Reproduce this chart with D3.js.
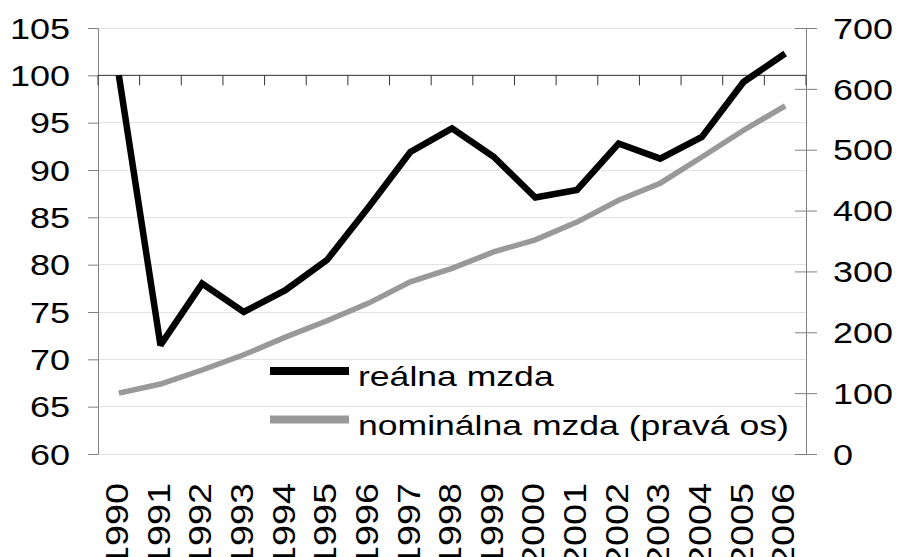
<!DOCTYPE html>
<html>
<head>
<meta charset="utf-8" />
<script src="https://d3js.org/d3.v7.min.js"></script>
<style>
  body { margin: 0; background: #fff; }
  text { font-family: "Liberation Sans", Arial, sans-serif; fill: #000; }
  .axis path, .axis line { stroke: #808080; }
  .grid line { stroke: #e2e2e2; shape-rendering: crispEdges; }
  .line { fill: none; stroke-linecap: butt; stroke-linejoin: miter; stroke-miterlimit: 2; }
</style>
</head>
<body>
<svg width="898" height="557"></svg>
<script>
// data
var years = ["1990","1991","1992","1993","1994","1995","1996","1997","1998",
             "1999","2000","2001","2002","2003","2004","2005","2006"];
var realWage = [100, 71.5, 78.0, 75.0, 77.3, 80.5, 86.1, 91.9, 94.4,
                91.4, 87.1, 87.9, 92.8, 91.2, 93.5, 99.3, 102.3];
var nominalWage = [100, 115, 138, 163, 192, 219, 248, 283, 305,
                   332, 352, 381, 417, 445, 488, 532, 572];
var leftTicks = [60, 65, 70, 75, 80, 85, 90, 95, 100, 105];
var rightTicks = [0, 100, 200, 300, 400, 500, 600, 700];
var seriesNames = ["reálna mzda", "nominálna mzda (pravá os)"];

var svg = d3.select("svg"),
    margin = {top: 28, right: 92, bottom: 103, left: 98},
    width = +svg.attr("width") - margin.left - margin.right,
    height = +svg.attr("height") - margin.top - margin.bottom;

var g = svg.append("g")
  .attr("transform", "translate(" + margin.left + "," + margin.top + ")");

// scales
var x = d3.scaleBand().domain(years).range([0, width]);
var yL = d3.scaleLinear().domain([60, 105]).range([height, 0]);
var yR = d3.scaleLinear().domain([0, 700]).range([height, 0]);
var bw = x.bandwidth();

// gridlines
g.append("g")
  .attr("class", "grid")
  .selectAll("line")
  .data(leftTicks)
  .enter().append("line")
  .attr("x1", 0)
  .attr("x2", width)
  .attr("y1", function(d) { return yL(d); })
  .attr("y2", function(d) { return yL(d); });

// left axis
var left = g.append("g")
  .attr("class", "axis")
  .call(d3.axisLeft(yL).tickValues(leftTicks).tickSize(10).tickSizeOuter(0));
left.selectAll("text")
  .attr("x", 0)
  .attr("dy", "0.34em")
  .attr("transform", "translate(-28,0) scale(1.2,1)")
  .style("font-size", "30px");

// right axis
var right = g.append("g")
  .attr("class", "axis")
  .attr("transform", "translate(" + width + ",0)")
  .call(d3.axisRight(yR).tickValues(rightTicks).tickSizeOuter(0));
right.selectAll(".tick line")
  .attr("x1", -11)
  .attr("x2", 11);
right.selectAll("text")
  .attr("x", 0)
  .attr("dy", "0.34em")
  .attr("transform", "translate(27,0) scale(1.2,1)")
  .style("font-size", "30px");
svg.selectAll(".axis .domain").attr("stroke", "#808080");

// category axis crossing at 100
var xAxis = g.append("g")
  .attr("transform", "translate(0," + yL(100) + ")");
xAxis.append("line")
  .attr("x1", 0)
  .attr("x2", width)
  .attr("stroke", "#333");
xAxis.selectAll(".xt")
  .data(years.concat(["end"]))
  .enter().append("line")
  .attr("class", "xt")
  .attr("x1", function(d) { return d === "end" ? width : x(d); })
  .attr("x2", function(d) { return d === "end" ? width : x(d); })
  .attr("y1", 0)
  .attr("y2", 10)
  .attr("stroke", "#333");

// year labels under the plot
g.selectAll(".ylab")
  .data(years)
  .enter().append("text")
  .attr("class", "ylab")
  .attr("text-anchor", "end")
  .attr("dy", "0.35em")
  .attr("transform", function(d) {
    return "translate(" + (x(d) + bw / 2 - 2) + "," + (height + 29) + ") rotate(-90) scale(1.18,1)";
  })
  .style("font-size", "32px")
  .text(function(d) { return d; });

// lines
var lineL = d3.line()
  .x(function(d, i) { return x(years[i]) + bw / 2; })
  .y(function(d) { return yL(d); });
var lineR = d3.line()
  .x(function(d, i) { return x(years[i]) + bw / 2; })
  .y(function(d) { return yR(d); });

g.append("path")
  .datum(nominalWage)
  .attr("class", "line")
  .attr("stroke", "#999999")
  .attr("stroke-width", 5.5)
  .attr("d", lineR);

g.append("path")
  .datum(realWage)
  .attr("class", "line")
  .attr("stroke", "#000")
  .attr("stroke-width", 6.5)
  .attr("d", lineL);

// legend
var legend = svg.selectAll(".legend")
  .data(seriesNames)
  .enter().append("g")
  .attr("class", "legend")
  .attr("transform", function(d, i) { return "translate(270," + (371 + i * 48.5) + ")"; });

legend.append("line")
  .attr("x1", 0)
  .attr("x2", 79)
  .attr("stroke-width", 8)
  .attr("stroke", function(d, i) { return i === 0 ? "#000" : "#999999"; });

legend.append("text")
  .attr("x", 0)
  .attr("y", 0)
  .attr("transform", "translate(88,15) scale(1.27,1)")
  .style("font-size", "28px")
  .text(function(d) { return d; });
</script>
</body>
</html>
